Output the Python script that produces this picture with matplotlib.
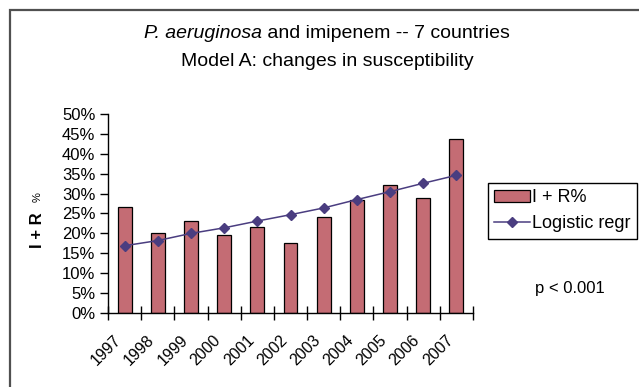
import matplotlib.pyplot as plt
from matplotlib.ticker import PercentFormatter, MultipleLocator, FixedLocator
from matplotlib.patches import Rectangle
from matplotlib.transforms import ScaledTranslation
import numpy as np

plt.rcParams['font.family'] = ['Liberation Sans', 'DejaVu Sans']

years = ['1997', '1998', '1999', '2000', '2001', '2002', '2003', '2004', '2005', '2006', '2007']
ir_pct = [0.266, 0.200, 0.232, 0.197, 0.215, 0.177, 0.242, 0.284, 0.322, 0.290, 0.436]
logistic = [0.169, 0.182, 0.200, 0.214, 0.231, 0.247, 0.264, 0.285, 0.305, 0.326, 0.346]

W, H = 639, 387
fig = plt.figure(figsize=(W / 100, H / 100), dpi=100)

# outer chart border (runs off the right/bottom edge like the source)
fig.patches.append(Rectangle((10 / W, -0.05), 1.1, 1 - 10 / H + 0.05,
                             transform=fig.transFigure, fill=False,
                             edgecolor='#505050', linewidth=1.6))

ax = fig.add_axes([108 / W, 1 - 313 / H, (473 - 108) / W, (313 - 114) / H])
x = np.arange(len(years))
bars = ax.bar(x, ir_pct, width=0.42, color='#c46c74', edgecolor='black',
              linewidth=0.9, label='I + R%')
line, = ax.plot(x, logistic, color='#4a3d80', marker='D', markersize=5,
                linewidth=1.1, label='Logistic regr')

ax.set_xlim(-0.5, len(years) - 0.5)
ax.set_ylim(0, 0.5)
ax.yaxis.set_major_locator(MultipleLocator(0.05))
ax.yaxis.set_major_formatter(PercentFormatter(1.0, decimals=0))
ax.tick_params(axis='y', direction='out', length=6, width=1, labelsize=12, pad=3)

ax.set_xticks(x)
ax.set_xticklabels(years, rotation=45, ha='right', rotation_mode='anchor', fontsize=11.5)
ax.tick_params(axis='x', which='major', length=0, pad=14)
shift = ScaledTranslation(-11 / 100, 0, fig.dpi_scale_trans)
for lbl in ax.get_xticklabels():
    lbl.set_transform(lbl.get_transform() + shift)
ax.xaxis.set_minor_locator(FixedLocator(np.arange(-0.5, len(years), 1.0)))
ax.tick_params(axis='x', which='minor', direction='inout', length=10, width=1)

for side in ['top', 'right']:
    ax.spines[side].set_visible(False)
ax.spines['left'].set_linewidth(1)
ax.spines['bottom'].set_linewidth(1)

fig.text(38 / W, 1 - 230 / H, 'I + R', rotation=90, ha='center', va='center',
         fontsize=12, fontweight='bold')
fig.text(38 / W, 1 - 197 / H, '%', rotation=90, ha='center', va='center',
         fontsize=8)

# title line 1: italic species name followed by plain text, centred as a whole
t_it = fig.text(0, 1 - 34 / H, 'P. aeruginosa', style='italic',
                ha='left', va='center', fontsize=14)
t_rm = fig.text(0, 1 - 34 / H, ' and imipenem -- 7 countries',
                ha='left', va='center', fontsize=14)
renderer = fig.canvas.get_renderer()
w_it = t_it.get_window_extent(renderer).width
w_sp = fig.text(0, 0, 'a a', fontsize=14).get_window_extent(renderer).width - \
    fig.text(0, 0, 'aa', fontsize=14).get_window_extent(renderer).width
for t in fig.texts[-2:]:
    t.remove()
w_rm = t_rm.get_window_extent(renderer).width
x0 = 327 - (w_it + w_rm) / 2
t_it.set_x(x0 / W)
t_rm.set_x((x0 + w_it) / W)

fig.text(327 / W, 1 - 61 / H, 'Model A: changes in susceptibility',
         ha='center', va='center', fontsize=14)

fig.legend(handles=[bars, line], loc='upper left',
           bbox_to_anchor=(488 / W, 1 - 183 / H), fontsize=13,
           frameon=True, fancybox=False, edgecolor='black', framealpha=1,
           borderpad=0.35, handlelength=2.0, handletextpad=0.1, labelspacing=0.5,
           borderaxespad=0)

fig.text(570 / W, 1 - 288 / H, 'p < 0.001', ha='center', va='center', fontsize=12)

fig.savefig('out.png', dpi=100)
